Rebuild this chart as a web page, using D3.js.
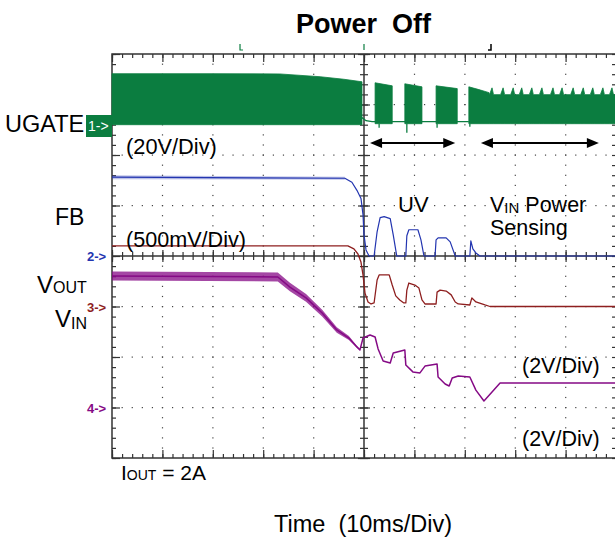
<!DOCTYPE html>
<html><head><meta charset="utf-8">
<script src="https://cdn.jsdelivr.net/npm/d3@7/dist/d3.min.js"></script>
<style>
body{margin:0;background:#fff}
text{font-family:"Liberation Sans",Arial,sans-serif;fill:#000}
</style>
</head><body>
<svg id="c" width="615" height="537"></svg>
<script>
// ---------------- DATA (time in ms, 10 ms/div; values in volts) ----------------
const channelNames = ["UGATE", "FB", "VOUT", "VIN"];
const channelVoltsPerDiv = [20, 0.5, 2, 2];
const channelGroundDiv = [2.58, 0, -1, -3];      // ground marker position, divisions from centre
const channelMarkers = ["1->", "2->", "3->", "4->"];
const channelColors = ["#0b7d40", "#2335b0", "#8e1f1f", "#850a85"];

// UGATE (ch1) envelope: [t, top V, bottom V]
const ugateMain   = [[0,20.6,0.4],[20,20.6,0.4],[33.3,20.5,0.4],[41.3,19.4,0.4],[46,18.4,0.4],[49.6,17.4,0.4]];
const ugateBurst1 = [[52.2,17.0,0.8],[55.6,15.8,0.8]];
const ugateBurst2 = [[58.1,16.6,0.8],[61.5,15.4,0.8]];
const ugateBurst3 = [[64.3,15.8,0.8],[68.5,14.7,0.8]];
const ugateTail   = [[70.8,15.4,0.8],[72.8,14.3,0.8],[74.8,13.1,0.8],[76,12.3,0.8],[100,12.3,0.8]];
const ugateTailSpikes = [75.4,77.6,79.6,81.3,83.3,85.3,87.5,89.3,91.5,93.5,95.4,97.4,99.2];
const ugateSpikeTop = 15.0;
const ugateFloor  = [[49.6,3.2],[50.4,2.0],[51.6,1.6],[70.8,1.6]];
const ugateDownSpikes = [[53,-0.8],[58.5,-2.8],[64.5,-0.8],[71,-0.4]];

// FB (ch2)
const fbTime  = [0,46.2,47.6,48.6,49.4,49.8,50.0,50.4,51.0,52.0,52.6,53.2,54.0,55.2,55.8,56.5,58.3,58.5,58.9,60.7,61.3,61.9,64.1,64.3,64.7,66.3,67.1,68.1,71.0,71.2,71.6,72.2,73.0,100];
const fbVolts = [0.78,0.77,0.73,0.65,0.57,0.41,0.21,0.06,0,0,0.24,0.38,0.39,0.37,0.21,0,0,0.2,0.26,0.26,0.16,0,0,0.16,0.18,0.18,0.14,0,0,0.15,0.07,0.03,0,0];
const fbNoiseT = [0,45,47.5];
const fbNoiseV = [0.02,0.02,0.008];

// VOUT (ch3)
const voutTime  = [0,46.8,48.0,48.8,49.4,49.8,50.2,50.8,51.4,52.0,52.6,53.0,55.0,55.6,56.3,57.1,57.9,58.3,58.5,58.9,60.1,60.9,61.5,62.1,64.3,64.5,65.1,66.3,67.3,68.1,68.7,71.0,71.4,72.2,74.0,75.0,100];
const voutVolts = [2.40,2.40,2.28,2.08,1.76,1.25,0.53,0.18,0.10,0.14,1.05,1.25,1.25,0.85,0.42,0.26,0.14,0.14,0.65,0.93,0.85,0.73,0.26,0.10,0.10,0.57,0.65,0.61,0.46,0.18,0.10,0.06,0.34,0.18,0.06,0,0];

// VIN (ch4)
const vinTime  = [0,32.9,35.3,38.5,41.7,44.6,47.0,48.6,49.2,49.8,51.2,52.2,52.8,53.8,55.2,55.8,58.1,58.3,59.7,61.1,62.1,64.5,64.7,66.1,66.9,67.5,68.7,71.0,72.2,73.8,75.4,77.0,100];
const vinVolts = [5.21,5.17,4.77,4.34,3.74,3.07,2.75,2.40,2.28,2.75,2.87,2.79,2.32,1.84,1.76,2.16,2.28,1.68,1.41,1.37,1.64,1.72,1.21,0.93,0.85,1.17,1.25,1.21,0.69,0.26,0.61,0.97,0.97];
const vinNoiseT = [0,33,40,46,49.5];
const vinNoiseV = [0.18,0.18,0.15,0.10,0.02];

// ---------------- SCALES ----------------
const svg = d3.select("#c");
const x = d3.scaleLinear().domain([0,100]).range([112,616]);
const yDiv = d3.scaleLinear().domain([4,-4]).range([54,458]);
const chY = channelVoltsPerDiv.map((vd,i) =>
  d3.scaleLinear().domain([0, vd]).range([yDiv(channelGroundDiv[i]), yDiv(channelGroundDiv[i]+1)]));

const gridCol = "#333";
const minorT = d3.range(0,100.001,2);
const majorT = d3.range(0,100.001,10);
const minorD = d3.range(-4,4.001,0.2).map(v=>+v.toFixed(1));
const majorD = d3.range(-4,4.001,1);

// ---------------- GRID DOTS ----------------
const gDots = svg.append("g").attr("fill","#444");
majorT.filter(t=>t>0 && t<100 && t!==50).forEach(t=>{
  gDots.selectAll(null).data(minorD.filter(d=>Math.abs(d)<4)).join("rect")
    .attr("x", x(t)-0.5).attr("y", d=>yDiv(d)-0.5).attr("width",1.2).attr("height",1.2);
});
majorD.filter(d=>Math.abs(d)<4 && d!==0).forEach(d=>{
  gDots.selectAll(null).data(minorT.filter(t=>t>0&&t<100)).join("rect")
    .attr("x", t=>x(t)-0.5).attr("y", yDiv(d)-0.5).attr("width",1.2).attr("height",1.2);
});

// ---------------- BORDER & AXES TICKS ----------------
const gAx = svg.append("g").attr("class","axes");
function tickAxis(gen, tx, ty){
  const g = gAx.append("g").attr("transform",`translate(${tx},${ty})`).call(gen);
  g.select(".domain").remove();
  g.selectAll("line").attr("stroke",gridCol).attr("stroke-width",1.2);
  return g;
}
const yD = yDiv;
tickAxis(d3.axisBottom(x).tickValues(minorT).tickSize(4).tickFormat(""),0,54);
tickAxis(d3.axisBottom(x).tickValues(majorT).tickSize(8).tickFormat(""),0,54);
tickAxis(d3.axisTop(x).tickValues(minorT).tickSize(4).tickFormat(""),0,458);
tickAxis(d3.axisTop(x).tickValues(majorT).tickSize(8).tickFormat(""),0,458);
tickAxis(d3.axisRight(yD).tickValues(minorD).tickSize(4).tickFormat(""),112,0);
tickAxis(d3.axisRight(yD).tickValues(majorD).tickSize(8).tickFormat(""),112,0);
tickAxis(d3.axisLeft(yD).tickValues(minorD).tickSize(4).tickFormat(""),616,0);
tickAxis(d3.axisBottom(x).tickValues(minorT).tickSize(8).tickFormat(""),0,252);
tickAxis(d3.axisBottom(x).tickValues(majorT).tickSize(12).tickFormat(""),0,250);
tickAxis(d3.axisRight(yD).tickValues(minorD).tickSize(8).tickFormat(""),x(50)-4,0);
tickAxis(d3.axisRight(yD).tickValues(majorD).tickSize(12).tickFormat(""),x(50)-6,0);

gAx.append("rect").attr("x",x(0)).attr("y",yD(4)).attr("width",x(100)-x(0)).attr("height",yD(-4)-yD(4))
  .attr("fill","none").attr("stroke",gridCol).attr("stroke-width",1.5);
gAx.append("line").attr("x1",x(0)).attr("x2",x(100)).attr("y1",yD(0)).attr("y2",yD(0)).attr("stroke",gridCol).attr("stroke-width",1.5);
gAx.append("line").attr("x1",x(50)).attr("x2",x(50)).attr("y1",yD(4)).attr("y2",yD(-4)).attr("stroke",gridCol).attr("stroke-width",1.5);

// ---------------- TRACES ----------------
const gT = svg.append("g");
const y1 = chY[0];
const env = d3.area().x(d=>x(d[0])).y0(d=>y1(d[2])).y1(d=>y1(d[1]));
const tailPts = [];
ugateTail.forEach(p=>tailPts.push(p));
ugateTailSpikes.forEach(t=>{ tailPts.push([t-0.5,12.3,0.8]); tailPts.push([t,ugateSpikeTop,0.8]); tailPts.push([t+0.3,12.3,0.8]); });
tailPts.sort((a,b)=>a[0]-b[0]);
[ugateMain, ugateBurst1, ugateBurst2, ugateBurst3, tailPts].forEach(seg=>{
  gT.append("path").datum(seg).attr("d",env).attr("fill",channelColors[0]).attr("stroke",channelColors[0]).attr("stroke-width",0.8);
});
gT.append("path").datum(ugateFloor).attr("d",d3.line().x(d=>x(d[0])).y(d=>y1(d[1])))
  .attr("fill","none").attr("stroke",channelColors[0]).attr("stroke-width",1.3);
gT.selectAll(null).data(ugateDownSpikes).join("line")
  .attr("x1",d=>x(d[0])).attr("x2",d=>x(d[0])).attr("y1",y1(0.8)).attr("y2",d=>y1(d[1]))
  .attr("stroke",channelColors[0]).attr("stroke-width",1.3);

function trace(times, volts, ch, noiseT, noiseV, bandOpacity, width){
  const ys = chY[ch];
  const pts = times.map((t,i)=>[t,volts[i]]);
  if(noiseT){
    const nz = d3.scaleLinear().domain(noiseT).range(noiseV).clamp(true);
    const band = pts.filter(p=>p[0]<=noiseT[noiseT.length-1]);
    gT.append("path").datum(band)
      .attr("d", d3.area().x(d=>x(d[0])).y0(d=>ys(d[1]-nz(d[0]))).y1(d=>ys(d[1]+nz(d[0]))))
      .attr("fill",channelColors[ch]).attr("opacity",bandOpacity);
  }
  gT.append("path").datum(pts).attr("d", d3.line().x(d=>x(d[0])).y(d=>ys(d[1])))
    .attr("fill","none").attr("stroke",channelColors[ch]).attr("stroke-width",width||1.4).attr("stroke-linejoin","round");
}
trace(vinTime, vinVolts, 3, vinNoiseT, vinNoiseV, 0.75, 1.5);
trace(voutTime, voutVolts, 2, null, null, 0, 1.3);
trace(fbTime, fbVolts, 1, fbNoiseT, fbNoiseV, 0.3, 1.2);

// trigger marks at top
svg.append("path").attr("d",`M${x(25.4)},44 V50 H${x(25.4)+3}`).attr("stroke",channelColors[0]).attr("fill","none").attr("stroke-width",1.2);
svg.append("line").attr("x1",x(50)).attr("x2",x(50)).attr("y1",44).attr("y2",50).attr("stroke",channelColors[0]).attr("stroke-width",1.2);
svg.append("path").attr("d",`M${x(75)+1},44 V50 H${x(75)-2}`).attr("stroke","#000").attr("fill","none").attr("stroke-width",1.5);

// arrows
function arrow(t0,t1,yy){
  const a=x(t0), b=x(t1);
  svg.append("line").attr("x1",a+8).attr("x2",b-8).attr("y1",yy).attr("y2",yy).attr("stroke","#000").attr("stroke-width",1.8);
  svg.append("path").attr("d",`M${a},${yy} L${a+12},${yy-5} L${a+12},${yy+5}Z`).attr("fill","#000");
  svg.append("path").attr("d",`M${b},${yy} L${b-12},${yy-5} L${b-12},${yy+5}Z`).attr("fill","#000");
}
arrow(51.2,68.1,143);
arrow(73.2,96.6,143);

// ---------------- MARKERS ----------------
svg.append("rect").attr("x",86).attr("y",115).attr("width",26).attr("height",22).attr("fill",channelColors[0]);
svg.append("text").attr("x",88).attr("y",131).text(channelMarkers[0]).style("fill","#fff").attr("font-size",14);
[1,2,3].forEach(i=>{
  svg.append("text").attr("x",87).attr("y",yDiv(channelGroundDiv[i])+5).text(channelMarkers[i])
    .style("fill",channelColors[i]).attr("font-size",13).attr("font-weight","bold");
});

// ---------------- TEXT ----------------
function txt(xx,yy,s,size,opts={}){
  const t = svg.append("text").attr("x",xx).attr("y",yy).attr("font-size",size);
  if(opts.anchor) t.attr("text-anchor",opts.anchor);
  if(opts.bold) t.attr("font-weight","bold");
  t.text(s);
  return t;
}
txt(296,33,"Power",27,{bold:true});
txt(392,33,"Off",27,{bold:true});
txt(5,132,channelNames[0],23.5);
txt(126,154,"(20V/Div)",21.8);
txt(55,225,channelNames[1],23);
txt(126,247,"(500mV/Div)",21.6);
let t3 = svg.append("text").attr("x",37).attr("y",293).attr("font-size",24);
t3.append("tspan").text("V"); t3.append("tspan").attr("font-size",16).text("OUT");
let t4 = svg.append("text").attr("x",55).attr("y",327).attr("font-size",24);
t4.append("tspan").text("V"); t4.append("tspan").attr("font-size",16).attr("dy",2).text("IN");
txt(398,212,"UV",22);
let tv = svg.append("text").attr("x",490).attr("y",212).attr("font-size",21.5);
tv.append("tspan").text("V"); tv.append("tspan").attr("font-size",15).attr("dy",1).text("IN");
tv.append("tspan").attr("dy",-1).text(" Power");
txt(490,235,"Sensing",21.5);
txt(522,373,"(2V/Div)",21.5);
txt(522,446,"(2V/Div)",21.5);
let ti = svg.append("text").attr("x",121).attr("y",480).attr("font-size",21);
ti.append("tspan").text("I"); ti.append("tspan").attr("font-size",14).text("OUT"); ti.append("tspan").text(" = 2A");
txt(274,532,"Time  (10ms/Div)",23.5).style("white-space","pre");
</script>
</body></html>
